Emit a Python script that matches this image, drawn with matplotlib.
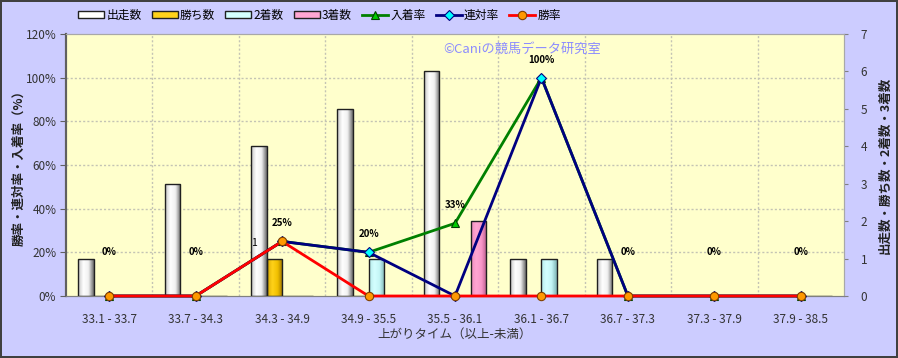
import numpy as np
import matplotlib
matplotlib.use("Agg")
import matplotlib.pyplot as plt
from matplotlib.colors import LinearSegmentedColormap
from matplotlib.patches import Rectangle

plt.rcParams['font.family'] = ['Noto Sans CJK JP', 'DejaVu Sans']

categories = ['33.1 - 33.7', '33.7 - 34.3', '34.3 - 34.9', '34.9 - 35.5', '35.5 - 36.1',
              '36.1 - 36.7', '36.7 - 37.3', '37.3 - 37.9', '37.9 - 38.5']
starts = [1, 3, 4, 5, 6, 1, 1, 0, 0]
wins = [0, 0, 1, 0, 0, 0, 0, 0, 0]
seconds = [0, 0, 0, 1, 0, 1, 0, 0, 0]
thirds = [0, 0, 0, 0, 2, 0, 0, 0, 0]
show_rate = [0, 0, 25, 20, 33.3, 100, 0, 0, 0]
quinella_rate = [0, 0, 25, 20, 0, 100, 0, 0, 0]
win_rate = [0, 0, 25, 0, 0, 0, 0, 0, 0]
pct_ticks = [0, 20, 40, 60, 80, 100, 120]
cnt_ticks = [0, 1, 2, 3, 4, 5, 6, 7]

BG = '#ccccff'
PLOT_BG = '#ffffcc'
TXT = '#333333'
GRID = '#c4c4b4'


def gradient_bars(ax, bars, colors):
    # fake the cylinder shading of the original bars
    cmap = LinearSegmentedColormap.from_list('g', colors)
    grad = np.linspace(0, 1, 64).reshape(1, -1)
    for b in bars:
        if b.get_height() <= 0:
            continue
        x0, y0 = b.get_x(), b.get_y()
        im = ax.imshow(grad, cmap=cmap, aspect='auto', interpolation='bicubic', zorder=2.5,
                       extent=[x0, x0 + b.get_width(), y0, y0 + b.get_height()])
        im.set_clip_path(b)


fig = plt.figure(figsize=(8.98, 3.58), dpi=100)
fig.patch.set_facecolor(BG)
fig.patch.set_edgecolor('#404040')
fig.patch.set_linewidth(1.5)

ax = fig.add_axes([66 / 898, 1 - 296 / 358, 778 / 898, 262 / 358])
ax.set_facecolor(PLOT_BG)
ax2 = ax.twinx()

x = np.arange(len(categories))
w = 0.18
series = [
    ('出走数', starts, ['#c4c4c4', '#ffffff', '#f0f0f0', '#6a6a6a']),
    ('勝ち数', wins, ['#d9a800', '#ffd21a', '#f2c000', '#9c7400']),
    ('2着数', seconds, ['#b4eaea', '#d4ffff', '#c4f6f6', '#7fb4b4']),
    ('3着数', thirds, ['#f08cbe', '#ffa6d2', '#f896c8', '#b85a8a']),
]
handles = []
for i, (name, vals, cols) in enumerate(series):
    bars = ax.bar(x + (i - 1.5) * w, vals, w, facecolor='none', edgecolor='#202020',
                  linewidth=1, zorder=3)
    gradient_bars(ax, bars, cols)
    handles.append(Rectangle((0, 0), 1, 1, facecolor=cols[1], edgecolor='#202020', linewidth=1))

# grid
for p in pct_ticks[1:-1]:
    ax.axhline(p / 120 * 7, color=GRID, lw=1, ls=(0, (1.5, 1.5)), zorder=1)
for k in x[:-1]:
    ax.axvline(k + 0.5, color=GRID, lw=1, ls=(0, (1.5, 1.5)), zorder=1)

l1, = ax2.plot(x, show_rate, color='#008000', lw=2, marker='^', ms=6,
               mfc='#00cc00', mec='#004000', mew=0.8, clip_on=False, zorder=4)
l2, = ax2.plot(x, quinella_rate, color='#000080', lw=2, marker='D', ms=5,
               mfc='#00ffff', mec='#000080', mew=0.8, clip_on=False, zorder=5)
l3, = ax2.plot(x, win_rate, color='#ff0000', lw=2, marker='o', ms=6,
               mfc='#ff9900', mec='#804000', mew=0.8, clip_on=False, zorder=6)
handles += [l1, l2, l3]

for xi, v in zip(x, show_rate):
    ax2.annotate(f'{round(v)}%', (xi, v), xytext=(0, 32 if v == 0 else 13),
                 textcoords='offset points', ha='center', va='center',
                 fontsize=7, fontweight='bold', color='black', zorder=7)
ax2.annotate(str(wins[2]), (x[2], win_rate[2]), xytext=(-20, -1), textcoords='offset points',
             ha='center', va='center', fontsize=7.5, color='black')

ax.set_xlim(-0.5, len(categories) - 0.5)
ax.set_ylim(0, 7)
ax2.set_ylim(0, 120)

# bars axis on the right, rate axis on the left
ax.yaxis.tick_right()
ax.yaxis.set_label_position('right')
ax2.yaxis.tick_left()
ax2.yaxis.set_label_position('left')

ax.set_yticks(cnt_ticks)
ax2.set_yticks(pct_ticks)
ax2.set_yticklabels([f'{p}%' for p in pct_ticks])
ax.set_xticks(x)
ax.set_xticklabels(categories)

ax.tick_params(axis='x', length=0, pad=12, labelsize=8.5, labelcolor=TXT)
ax.tick_params(axis='y', direction='out', length=3, pad=9, labelsize=8.5, labelcolor=TXT,
               color='#808080')
ax2.tick_params(axis='y', direction='out', length=4, pad=3, labelsize=8.5, labelcolor=TXT,
                color='#606060')
for a in (ax, ax2):
    a.spines['left'].set_color('#606060')
    a.spines['left'].set_linewidth(1.5)
    a.spines['bottom'].set_color('#808080')
    a.spines['top'].set_color('#a8a8a8')
    a.spines['right'].set_color('#a8a8a8')

ax.set_xlabel('上がりタイム（以上-未満）', fontsize=9, color=TXT)
ax.xaxis.set_label_coords(0.5, -0.12)
ax2.set_ylabel('勝率・連対率・入着率（%）', fontsize=9, fontweight='bold', color='#202020')
ax2.yaxis.set_label_coords(-0.052, 0.5)
ax.set_ylabel('出走数・勝ち数・2着数・3着数', fontsize=9, fontweight='bold', color='#202020')
ax.yaxis.set_label_coords(1.045, 0.5)

ax.text(0.485, 0.94, '©Caniの競馬データ研究室', transform=ax.transAxes, ha='left', va='center',
        fontsize=9.5, color='#8c8cff', zorder=8)

labels = [s[0] for s in series] + ['入着率', '連対率', '勝率']
fig.legend(handles, labels, loc='center left', bbox_to_anchor=(78 / 898, 1 - 15 / 358),
           ncol=7, frameon=False, fontsize=8.5, handlelength=2.2, handleheight=0.6,
           handletextpad=0.2, columnspacing=0.85, borderpad=0, borderaxespad=0)

fig.savefig('out.png', dpi=100, facecolor=fig.get_facecolor(), edgecolor=fig.get_edgecolor())
